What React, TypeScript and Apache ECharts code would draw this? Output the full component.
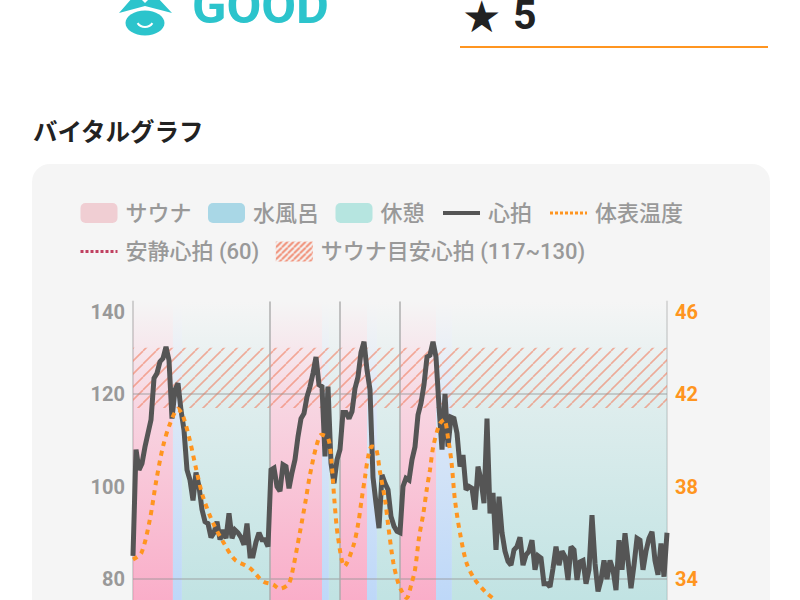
import React, { useEffect, useRef } from "react";
import * as echarts from "echarts";

const heartRate = [85,108,103.6,105,108.6,111.5,114.4,123.4,124.5,127,127.7,130.2,127.3,114.7,120.9,122.3,116.5,112.2,103.6,101.4,97,103,100,95,92.4,92,89,90,92.4,88.5,90.6,88.8,94.2,88.8,90.6,90,89,87.4,92,85,85,88,90,88.5,88.5,87,103.6,104,100,99,104.7,104.3,99.6,103,105.8,110.8,114.7,115.8,119.4,121.6,124.5,128,122,121.6,106.5,121.6,105,100.7,105.8,108,116,116,114.7,116.2,121.2,123.7,129,131.3,125.2,120.9,102,96.4,91,102.5,100.7,99.3,93.5,91.4,90.3,90,100,101.8,101.4,105.8,108.6,115.5,118,122,128,128.4,131.3,128,117.3,108,120,108.6,115,114.7,111.5,104.3,106.8,99.3,100,99.6,95,104.3,101.4,96.4,114.7,94.2,98.6,86.3,97.8,90,86,83.8,83,86.3,87,89,83,85.2,86,88.4,82,85,84.5,79,79,78.3,82.3,87,83,86,84.8,79.8,87,86.3,79.8,83.7,84,79,82,93.8,83.4,77.3,79.8,84,80,84,82,77.6,88.4,82,89.9,84,78,83,88.8,88.4,82,86,88.8,90.2,84,80.9,87.7,80.5,90];
const tempTimes = [0,2.8,5.6,7.8,10,12.4,15,16.7,18.9,21.1,23.3,26.7,30.6,33.9,38.9,43.3,46.7,48.9,51.7,52.8,55.6,57.6,58.9,61.1,62.8,65,66.1,67.2,68.3,70.5,73.4,75.1,76.2,77.3,78.4,79.6,81,82.3,84,85.1,86.8,88.4,89.6,91.2,92.9,94,95.4,96.8,97.9,99,100.1,102.1,103.7,105.1,106.2,107.3,109,111.2,114,117.9,120.7];
const tempValues = [34.84,35.13,36.56,38.29,39.73,40.74,41.35,41.03,40.02,38.73,37.57,36.42,35.48,34.84,34.48,33.9,33.76,33.58,33.76,34.12,35.99,37.43,38.44,39.73,40.24,40.1,39.16,37.29,35.84,34.55,35.41,36.42,37.43,38.37,39.3,39.73,39.66,38.65,37.43,36.28,34.69,33.83,33.47,33.18,33.83,34.4,35.84,36.85,37.86,38.73,39.73,40.67,40.89,40.02,39.01,37.43,35.99,34.69,33.97,33.39,33.1];
const saunaRanges = [[0,13.3],[45.7,63],[69,78],[89,101]];
const coldRanges = [[13.3,16.3],[63,65.3],[78,81.3],[101,106.3]];
const restRanges = [[16.3,45.7],[65.3,69],[81.3,89],[106.3,178]];
const sessionStarts = [45.7,69,89];
const gridLevels = [120,80];
const restingHeartRate = 60;
const targetRange = [117,130];
const legendNames = ["サウナ","水風呂","休憩","心拍","体表温度","安静心拍 (60)","サウナ目安心拍 (117~130)"];

const FONT = 'Roboto, "Noto Sans CJK JP", sans-serif';
const ORANGE = "#ff9520";
const TEAL = "#2cc4cc";

function hatch(size: number, width: number, alpha: number) {
  const c = document.createElement("canvas");
  c.width = size; c.height = size;
  const g = c.getContext("2d")!;
  g.strokeStyle = `rgba(240,125,95,${alpha})`;
  g.lineWidth = width;
  for (const off of [-size, 0, size]) {
    g.beginPath();
    g.moveTo(off, size);
    g.lineTo(off + size, 0);
    g.stroke();
  }
  return { image: c, repeat: "repeat" } as any;
}

function bandGradient(r: number, g: number, b: number, a: number) {
  return new echarts.graphic.LinearGradient(0, 0, 0, 1, [
    { offset: 0, color: `rgba(${r},${g},${b},0)` },
    { offset: 0.234, color: `rgba(${r},${g},${b},${a * 0.45})` },
    { offset: 0.645, color: `rgba(${r},${g},${b},${a})` },
    { offset: 1, color: `rgba(${r},${g},${b},${a})` },
  ]);
}

function bandSeries(name: string, ranges: number[][], color: any) {
  return {
    name, type: "line", data: [], symbol: "none",
    markArea: { silent: true, z: 1, itemStyle: { color }, data: ranges.map(([a, b]) => [{ xAxis: a }, { xAxis: b }]) },
  };
}

export default function App() {
  const ref = useRef<HTMLDivElement>(null);
  useEffect(() => {
    const chart = echarts.init(ref.current!, undefined, { renderer: "svg" });
    const lineItem = (name: string, lineStyle: any) => ({ name, lineStyle, itemStyle: { opacity: 0 } });
    chart.setOption({
      animation: false,
      textStyle: { fontFamily: FONT },
      graphic: [
        { type: "rect", z: -10, shape: { x: 32, y: 164, width: 738, height: 520, r: 18 }, style: { fill: "#f5f5f5" } },
        { type: "rect", shape: { x: 460, y: 46, width: 308, height: 2 }, style: { fill: ORANGE } },
        { type: "polygon", shape: { points: [[119, 13], [133, -3], [157, -3], [172, 13], [145, 6]] }, style: { fill: TEAL } },
        { type: "polygon", shape: { points: [[139, -3], [151, -3], [145, 3]] }, style: { fill: "#fff" } },
        { type: "ellipse", shape: { cx: 145, cy: 23, rx: 19.5, ry: 12.5 }, style: { fill: TEAL } },
        { type: "arc", shape: { cx: 145, cy: 18, r: 9, startAngle: 0.6, endAngle: Math.PI - 0.6 }, style: { stroke: "#fff", lineWidth: 2, fill: "none" } },
        { type: "text", x: 192, y: 31, style: { text: "GOOD", fill: TEAL, font: `bold 50.5px ${FONT}`, textVerticalAlign: "bottom" } },
        { type: "text", x: 462, y: 38, style: { text: "★", fill: "#222", font: `44px "DejaVu Sans"`, textVerticalAlign: "bottom" } },
        { type: "text", x: 513, y: 35, style: { text: "5", fill: "#222", font: `bold 41px ${FONT}`, textVerticalAlign: "bottom" } },
        { type: "text", x: 33, y: 132, style: { text: "バイタルグラフ", fill: "#222", font: `bold 24.5px ${FONT}`, textVerticalAlign: "middle" } },
      ],
      legend: {
        left: 79, top: 202, width: 625, padding: 0, itemWidth: 37, itemHeight: 20, itemGap: 16.5, selectedMode: false,
        textStyle: { color: "#999", fontSize: 22, fontWeight: 500, fontFamily: FONT, padding: [0, 0, 0, 3] },
        data: [
          { name: legendNames[0], icon: "roundRect", itemStyle: { color: "#f0ced3" } },
          { name: legendNames[1], icon: "roundRect", itemStyle: { color: "#a9d7e6" } },
          { name: legendNames[2], icon: "roundRect", itemStyle: { color: "#b6e5e0" } },
          lineItem(legendNames[3], { color: "#555", width: 4 }),
          lineItem(legendNames[4], { color: ORANGE, width: 3, type: [3, 2] }),
          lineItem(legendNames[5], { color: "#c04060", width: 3, type: [3, 2] }),
          { name: legendNames[6], icon: "rect", itemStyle: { color: hatch(6, 2, 0.85) } },
        ],
      },
      grid: { left: 133, top: 301.5, width: 534, height: 462.5, outerBoundsMode: "none" },
      xAxis: { type: "value", min: 0, max: 178, show: false },
      yAxis: [
        {
          type: "value", min: 40, max: 140, interval: 20,
          axisLine: { show: true, lineStyle: { color: "#cfcfcf", width: 2 } },
          axisTick: { show: false }, splitLine: { show: false },
          axisLabel: { color: "#999", fontSize: 20, fontWeight: "bold", fontFamily: FONT, margin: 8, verticalAlignMaxLabel: "top" },
        },
        {
          type: "value", position: "right", min: 26, max: 46, interval: 2,
          axisLine: { show: true, lineStyle: { color: "#d8d8d8", width: 2 } },
          axisTick: { show: false }, splitLine: { show: false },
          axisLabel: {
            color: ORANGE, fontSize: 20, fontWeight: "bold", fontFamily: FONT, margin: 8, verticalAlignMaxLabel: "top",
            formatter: (v: number) => ((v - 26) % 4 === 0 ? String(v) : ""),
          },
        },
      ],
      series: [
        bandSeries(legendNames[0], saunaRanges, bandGradient(252, 140, 180, 0.68)),
        bandSeries(legendNames[1], coldRanges, bandGradient(160, 200, 250, 0.65)),
        bandSeries(legendNames[2], restRanges, bandGradient(150, 212, 212, 0.55)),
        {
          name: legendNames[6], type: "line", data: [], symbol: "none",
          markArea: {
            silent: true, z: 1.5,
            itemStyle: { color: hatch(13, 1.6, 0.6) },
            data: [[{ yAxis: targetRange[1] }, { yAxis: targetRange[0] }]],
          },
          markLine: {
            silent: true, symbol: "none", z: 2, label: { show: false },
            lineStyle: { color: "rgba(150,150,150,0.55)", width: 1.5, type: "solid" },
            data: [
              ...gridLevels.map((y) => ({ yAxis: y })),
              ...sessionStarts.map((x) => ({ xAxis: x, lineStyle: { color: "rgba(170,170,170,0.7)", width: 2 } })),
            ],
          },
        },
        {
          name: legendNames[5], type: "line", symbol: "none", z: 2,
          data: [[0, restingHeartRate], [178, restingHeartRate]],
          lineStyle: { color: "#c04060", width: 3, type: [3, 2] },
        },
        {
          name: legendNames[3], type: "line", symbol: "none", z: 3,
          data: heartRate.map((v, i) => [i, v]),
          lineStyle: { color: "#555", width: 5, join: "miter", miterLimit: 2, cap: "butt" },
        },
        {
          name: legendNames[4], type: "line", symbol: "none", z: 4, yAxisIndex: 1, smooth: 0.3,
          data: tempValues.map((v, i) => [tempTimes[i], v]),
          lineStyle: { color: ORANGE, width: 4, type: [5, 5] },
        },
      ],
    });
    return () => chart.dispose();
  }, []);
  return <div ref={ref} style={{ position: "fixed", left: 0, top: 0, width: 800, height: 600, background: "#fff" }} />;
}
